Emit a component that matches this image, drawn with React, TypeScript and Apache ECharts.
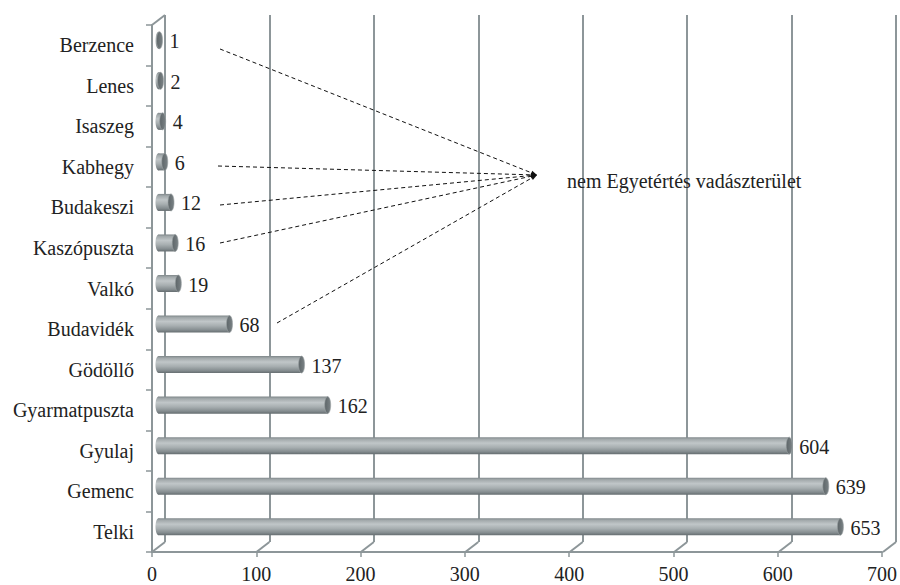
import React, { useEffect, useRef } from "react";
import * as echarts from "echarts";

const categories = [
  "Berzence",
  "Lenes",
  "Isaszeg",
  "Kabhegy",
  "Budakeszi",
  "Kaszópuszta",
  "Valkó",
  "Budavidék",
  "Gödöllő",
  "Gyarmatpuszta",
  "Gyulaj",
  "Gemenc",
  "Telki",
];
const values = [1, 2, 4, 6, 12, 16, 19, 68, 137, 162, 604, 639, 653];
const xTicks = [0, 100, 200, 300, 400, 500, 600, 700];
const annotationText = "nem Egyetértés vadászterület";

const X_MIN = 0;
const X_MAX = 700;
const FRONT_LEFT = 152;
const FRONT_TOP = 25;
const PLOT_W = 731;
const PLOT_H = 527;
const DX = 13;
const DY = 10;
const GRID_COLOR = "#8d9699";
const TEXT_COLOR = "#222222";
const FONT = "Liberation Serif";
const FS = 20;

export default function App() {
  const ref = useRef<HTMLDivElement>(null);

  useEffect(() => {
    if (!ref.current) return;
    const chart = echarts.init(ref.current, null, { renderer: "svg" });

    const tickPx = (v: number) => FRONT_LEFT + ((v - X_MIN) / (X_MAX - X_MIN)) * PLOT_W;
    const frontBottom = FRONT_TOP + PLOT_H;

    const floorLines = xTicks.map((v) => ({
      type: "line",
      z: 5,
      shape: { x1: tickPx(v), y1: frontBottom, x2: tickPx(v) + DX, y2: frontBottom - DY },
      style: { stroke: GRID_COLOR, lineWidth: 2 },
    }));

    const conv = { x: 537, y: 175 };
    const starts = [
      [220, 49],
      [218, 166],
      [220, 205],
      [220, 243],
      [277, 323],
    ];
    const dashLines: any[] = [];
    starts.forEach(([x, y]) => {
      const ddx = conv.x - x;
      const ddy = conv.y - y;
      const len = Math.sqrt(ddx * ddx + ddy * ddy);
      const ux = ddx / len;
      const uy = ddy / len;
      const L = 6;
      const W = 2.2;
      const bx = conv.x - ux * L;
      const by = conv.y - uy * L;
      dashLines.push({
        type: "line",
        z: 10,
        shape: { x1: x, y1: y, x2: bx, y2: by },
        style: { stroke: "#111", lineWidth: 1, lineDash: [4, 3] },
      });
      dashLines.push({
        type: "polygon",
        z: 10,
        shape: {
          points: [
            [conv.x, conv.y],
            [bx - uy * W, by + ux * W],
            [bx + uy * W, by - ux * W],
          ],
        },
        style: { fill: "#111" },
      });
    });

    const bodyGrad = () =>
      new echarts.graphic.LinearGradient(0, 0, 0, 1, [
        { offset: 0, color: "#7f878a" },
        { offset: 0.12, color: "#a2a9ab" },
        { offset: 0.35, color: "#c0c6c8" },
        { offset: 0.6, color: "#a8afb1" },
        { offset: 0.85, color: "#858d90" },
        { offset: 1, color: "#656d70" },
      ]);
    const capGrad = () =>
      new echarts.graphic.LinearGradient(0, 0, 1, 0, [
        { offset: 0, color: "#5d6568" },
        { offset: 1, color: "#7a8285" },
      ]);

    const option: any = {
      animation: false,
      textStyle: { fontFamily: FONT },
      grid: [
        { left: FRONT_LEFT + DX, top: FRONT_TOP - DY, width: PLOT_W, height: PLOT_H },
        { left: FRONT_LEFT + DX / 2, top: FRONT_TOP - DY / 2, width: PLOT_W, height: PLOT_H },
        { left: FRONT_LEFT, top: FRONT_TOP, width: PLOT_W, height: PLOT_H },
      ],
      xAxis: [
        {
          gridIndex: 0,
          type: "value",
          min: X_MIN,
          max: X_MAX,
          interval: 100,
          axisLine: { show: false },
          axisTick: { show: false },
          axisLabel: { show: false },
          splitLine: { show: true, lineStyle: { color: GRID_COLOR, width: 2 } },
        },
        {
          gridIndex: 1,
          type: "value",
          min: X_MIN,
          max: X_MAX,
          interval: 100,
          show: false,
        },
        {
          gridIndex: 2,
          type: "value",
          min: X_MIN,
          max: X_MAX,
          interval: 100,
          axisLine: { show: true, lineStyle: { color: GRID_COLOR, width: 2 } },
          axisTick: { show: true, length: 5, lineStyle: { color: GRID_COLOR, width: 1.5 } },
          axisLabel: {
            show: true,
            color: TEXT_COLOR,
            fontFamily: FONT,
            fontSize: FS,
            margin: 12,
            formatter: (v: number) => String(v),
          },
          splitLine: { show: false },
        },
      ],
      yAxis: [
        { gridIndex: 0, type: "category", data: categories, inverse: true, show: false },
        { gridIndex: 1, type: "category", data: categories, inverse: true, show: false },
        {
          gridIndex: 2,
          type: "category",
          data: categories,
          inverse: true,
          axisLine: { show: true, lineStyle: { color: GRID_COLOR, width: 2 } },
          axisTick: { show: true, length: 6, lineStyle: { color: GRID_COLOR, width: 1.5 } },
          axisLabel: {
            color: TEXT_COLOR,
            fontFamily: FONT,
            fontSize: FS,
            margin: 18,
          },
          splitLine: { show: false },
        },
      ],
      series: [
        {
          type: "custom",
          xAxisIndex: 1,
          yAxisIndex: 1,
          clip: false,
          z: 3,
          data: values.map((v, i) => [v, i]),
          encode: { x: 0, y: 1 },
          renderItem: (params: any, api: any) => {
            const v = api.value(0);
            const idx = api.value(1);
            const s = api.coord([0, idx]);
            const e = api.coord([v, idx]);
            const band = api.size([0, 1])[1];
            const h = band * 0.42;
            const cy = s[1];
            const rx = 3;
            return {
              type: "group",
              children: [
                {
                  type: "ellipse",
                  shape: { cx: s[0], cy, rx, ry: h / 2 },
                  style: { fill: bodyGrad() },
                },
                {
                  type: "rect",
                  shape: { x: s[0], y: cy - h / 2, width: Math.max(e[0] - s[0], 0.01), height: h },
                  style: { fill: bodyGrad() },
                },
                {
                  type: "ellipse",
                  shape: { cx: e[0], cy, rx, ry: h / 2 },
                  style: { fill: capGrad(), stroke: "#9aa1a3", lineWidth: 0.6 },
                },
                {
                  type: "text",
                  x: e[0] + 10,
                  y: cy + 1,
                  style: {
                    text: String(v),
                    fill: TEXT_COLOR,
                    fontFamily: FONT,
                    fontSize: FS,
                    align: "left",
                    verticalAlign: "middle",
                  },
                },
              ],
            };
          },
        },
      ],
      graphic: [
        ...floorLines,
        {
          type: "line",
          z: 5,
          shape: { x1: FRONT_LEFT, y1: FRONT_TOP, x2: FRONT_LEFT + DX, y2: FRONT_TOP - DY },
          style: { stroke: GRID_COLOR, lineWidth: 2 },
        },
        ...dashLines,
        {
          type: "text",
          z: 10,
          x: 567,
          y: 181,
          style: {
            text: annotationText,
            fill: TEXT_COLOR,
            fontFamily: FONT,
            fontSize: FS,
            align: "left",
            verticalAlign: "middle",
          },
        },
      ],
    };

    chart.setOption(option);
    return () => chart.dispose();
  }, []);

  return (
    <div
      ref={ref}
      style={{ position: "fixed", left: 0, top: 0, width: 900, height: 585, background: "#fff" }}
    />
  );
}
